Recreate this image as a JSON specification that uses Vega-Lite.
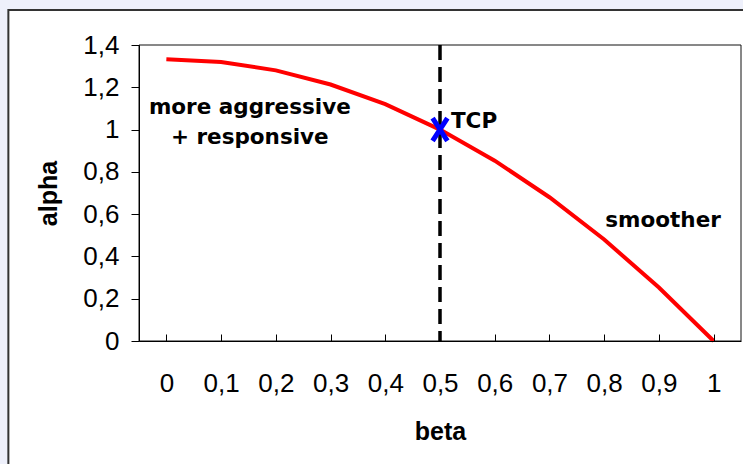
{
  "$schema": "https://vega.github.io/schema/vega-lite/v6.json",
  "width": 602,
  "height": 296,
  "autosize": {"type": "none"},
  "padding": {"left": 139, "top": 45, "right": 2, "bottom": 123},
  "background": "#eef0fb",
  "config": {
    "view": {"stroke": "#111111", "strokeWidth": 1, "fill": "white"},
    "axis": {"grid": false, "domainColor": "#000000", "tickColor": "#000000", "labelColor": "#000000", "titleColor": "#000000", "labelFont": "Liberation Sans", "titleFont": "Liberation Sans"}
  },
  "datasets": {
    "curve": [
      {"beta": 0, "alpha": 1.333},
      {"beta": 0.1, "alpha": 1.32},
      {"beta": 0.2, "alpha": 1.28},
      {"beta": 0.3, "alpha": 1.213},
      {"beta": 0.4, "alpha": 1.12},
      {"beta": 0.5, "alpha": 1.0},
      {"beta": 0.6, "alpha": 0.853},
      {"beta": 0.7, "alpha": 0.68},
      {"beta": 0.8, "alpha": 0.48},
      {"beta": 0.9, "alpha": 0.253},
      {"beta": 1, "alpha": 0}
    ],
    "tcp": [{"beta": 0.5, "alpha": 1.0}],
    "notes": [
      {"beta": 0.1525, "alpha": 1.076, "label": "more aggressive"},
      {"beta": 0.1525, "alpha": 0.93, "label": "+ responsive"},
      {"beta": 0.9076, "alpha": 0.541, "label": "smoother"}
    ],
    "tcpNote": [
      {"beta": 0.52, "alpha": 1.006, "label": "TCP"}
    ]
  },
  "layer": [
    {
      "data": {"values": [{}]},
      "mark": {"type": "rect", "fill": "white", "stroke": "#333333", "strokeWidth": 2, "clip": false},
      "encoding": {
        "x": {
          "datum": -0.2887, "type": "quantitative",
          "scale": {"domain": [-0.05, 1.05], "nice": false, "zero": false},
          "axis": {
            "zindex": 1,
            "title": "beta",
            "titleFontSize": 25, "titleFontWeight": "bold",
            "titleBaseline": "alphabetic", "titleY": 98,
            "values": [0, 0.05, 0.1, 0.15, 0.2, 0.25, 0.3, 0.35, 0.4, 0.45, 0.5, 0.55, 0.6, 0.65, 0.7, 0.75, 0.8, 0.85, 0.9, 0.95, 1],
            "labelExpr": "abs(datum.value*10 - round(datum.value*10)) < 0.001 ? replace(format(datum.value, '.1~f'), '.', ',') : ''",
            "labelFontSize": 26, "labelOverlap": false, "labelFlush": false, "labelBound": false,
            "tickSize": -7, "labelPadding": 36, "domainWidth": 1
          }
        },
        "x2": {"datum": 1.3},
        "y": {
          "datum": 1.5658, "type": "quantitative",
          "scale": {"domain": [0, 1.4], "nice": false},
          "axis": {
            "zindex": 1,
            "title": "alpha",
            "titleFontSize": 25, "titleFontWeight": "bold",
            "titleAngle": -90, "titleBaseline": "alphabetic", "titleAlign": "center", "titleX": -83,
            "values": [0, 0.2, 0.4, 0.6, 0.8, 1, 1.2, 1.4],
            "labelExpr": "replace(format(datum.value, '.1~f'), '.', ',')",
            "labelFontSize": 26, "labelOverlap": false, "labelFlush": false,
            "tickSize": 8, "labelPadding": 12, "domainWidth": 1
          }
        },
        "y2": {"datum": -0.7}
      }
    },
    {
      "data": {"values": [{}]},
      "mark": {"type": "rect", "fill": "white", "stroke": "#111111", "strokeWidth": 1},
      "encoding": {
        "x": {"datum": -0.05, "type": "quantitative"},
        "x2": {"datum": 1.05},
        "y": {"datum": 0, "type": "quantitative"},
        "y2": {"datum": 1.4}
      }
    },
    {
      "data": {"values": [{}]},
      "mark": {"type": "rule", "color": "#000000", "strokeWidth": 3.5, "strokeDash": [15, 7]},
      "encoding": {"x": {"datum": 0.5, "type": "quantitative"}}
    },
    {
      "data": {"name": "curve"},
      "mark": {"type": "line", "color": "#ff0000", "strokeWidth": 4},
      "encoding": {
        "x": {"field": "beta", "type": "quantitative"},
        "y": {"field": "alpha", "type": "quantitative"}
      }
    },
    {
      "data": {"name": "tcp"},
      "mark": {"type": "point", "shape": "M-0.65,-1L0.65,1M0.65,-1L-0.65,1", "filled": false, "stroke": "#0000ff", "strokeWidth": 5, "size": 520, "opacity": 1},
      "encoding": {
        "x": {"field": "beta", "type": "quantitative"},
        "y": {"field": "alpha", "type": "quantitative"}
      }
    },
    {
      "data": {"name": "notes"},
      "mark": {"type": "text", "font": "DejaVu Sans", "fontWeight": "bold", "fontSize": 21.5, "baseline": "alphabetic", "align": "center", "color": "#000000"},
      "encoding": {
        "x": {"field": "beta", "type": "quantitative"},
        "y": {"field": "alpha", "type": "quantitative"},
        "text": {"field": "label"}
      }
    },
    {
      "data": {"name": "tcpNote"},
      "mark": {"type": "text", "font": "DejaVu Sans", "fontWeight": "bold", "fontSize": 21.5, "baseline": "alphabetic", "align": "left", "color": "#000000"},
      "encoding": {
        "x": {"field": "beta", "type": "quantitative"},
        "y": {"field": "alpha", "type": "quantitative"},
        "text": {"field": "label"}
      }
    }
  ]
}
